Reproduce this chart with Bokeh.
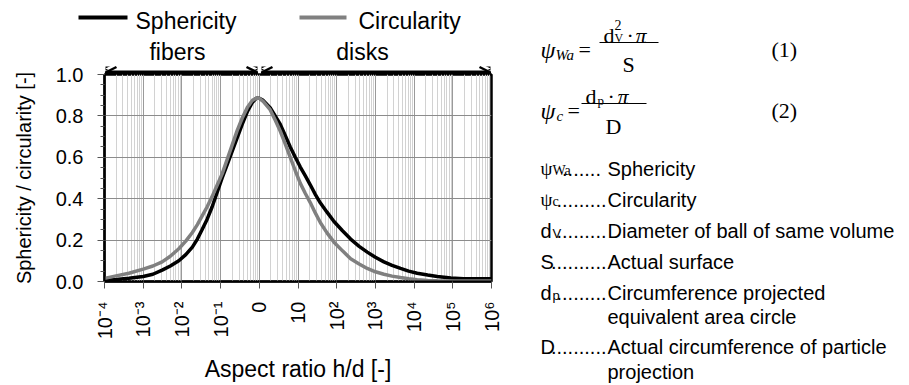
import math
from bokeh.plotting import figure
from bokeh.layouts import column, row
from bokeh.models import (Range1d, FixedTicker, CustomJSTickFormatter, NumeralTickFormatter,
                          Label, Arrow, OpenHead)
from bokeh.embed import file_html
from bokeh.resources import INLINE

# ---------------- data ----------------
sph_log_ar = [-4.0, -3.7, -3.37, -3.0, -2.75, -2.51, -2.3, -2.08, -1.9, -1.73, -1.6, -1.48, -1.35,
              -1.22, -1.09, -0.96, -0.83, -0.70, -0.57, -0.44, -0.31, -0.18, -0.08, 0.0, 0.1, 0.28,
              0.41, 0.54, 0.67, 0.80, 0.93, 1.06, 1.19, 1.32, 1.45, 1.58, 1.75, 1.93, 2.15, 2.36,
              2.58, 2.79, 3.0, 3.22, 3.43, 3.65, 3.86, 4.08, 4.35, 4.60, 4.95, 5.28, 5.6, 6.0]
sphericity = [0.005, 0.01, 0.016, 0.024, 0.035, 0.055, 0.075, 0.10, 0.13, 0.166, 0.205, 0.25, 0.30,
              0.36, 0.43, 0.50, 0.565, 0.63, 0.695, 0.76, 0.82, 0.865, 0.885, 0.885, 0.875, 0.84,
              0.80, 0.76, 0.705, 0.65, 0.60, 0.553, 0.51, 0.466, 0.42, 0.379, 0.335, 0.29, 0.245,
              0.205, 0.17, 0.142, 0.117, 0.095, 0.078, 0.063, 0.05, 0.04, 0.031, 0.024, 0.017,
              0.013, 0.013, 0.013]

cir_log_ar = [-4.0, -3.7, -3.37, -3.0, -2.75, -2.51, -2.3, -2.08, -1.9, -1.73, -1.6, -1.48, -1.35,
              -1.22, -1.09, -0.96, -0.83, -0.70, -0.57, -0.44, -0.31, -0.18, -0.08, 0.0, 0.1, 0.28,
              0.41, 0.54, 0.67, 0.80, 0.93, 1.06, 1.19, 1.32, 1.45, 1.58, 1.75, 1.93, 2.15, 2.36,
              2.58, 2.79, 3.0, 3.22, 3.43, 3.65, 3.86, 4.08, 4.35, 4.6, 5.0, 5.5, 6.0]
circularity = [0.015, 0.027, 0.04, 0.06, 0.075, 0.095, 0.122, 0.158, 0.195, 0.237, 0.275, 0.316,
               0.36, 0.41, 0.465, 0.52, 0.59, 0.66, 0.73, 0.79, 0.84, 0.875, 0.885, 0.885, 0.87,
               0.83, 0.78, 0.727, 0.665, 0.60, 0.535, 0.474, 0.425, 0.38, 0.33, 0.284, 0.235, 0.19,
               0.148, 0.11, 0.085, 0.063, 0.047, 0.035, 0.026, 0.019, 0.013, 0.008, 0.005, 0.004,
               0.003, 0.002, 0.002]

x_tick_values = [1e-4, 1e-3, 1e-2, 1e-1, 1e0, 1e1, 1e2, 1e3, 1e4, 1e5, 1e6]
x_tick_labels = ["10\u207b\u2074", "10\u207b\u00b3", "10\u207b\u00b2", "10\u207b\u00b9", "0", "10",
                 "10\u00b2", "10\u00b3", "10\u2074", "10\u2075", "10\u2076"]
y_tick_values = [0.0, 0.2, 0.4, 0.6, 0.8, 1.0]

legend_labels = ["Sphericity", "Circularity"]
region_labels = ["fibers", "disks"]
x_title = "Aspect ratio h/d [-]"
y_title = "Sphericity / circularity [-]"

def_symbols = [("\u03c8", "Wa", "serif"), ("\u03c8", "c", "serif"), ("d", "V", "sans"),
               ("S", "", "sans"), ("d", "p", "sans"), ("", "", "sans"), ("D", "", "sans"), ("", "", "sans")]
def_dots = [" .......", ".........", ".........", "..........", ".........", "", "..........", ""]
def_texts = ["Sphericity", "Circularity", "Diameter of ball of same volume", "Actual surface",
             "Circumference projected", "equivalent area circle",
             "Actual circumference of particle", "projection"]

# ---------------- layout ----------------
W, H = 909, 385
L, R, T, B = 104, 491, 74, 285
LEFT_W = 520
OVER = 14          # the plot canvas reaches this far up into the top band
SANS = "Liberation Sans"
SERIF = "Liberation Serif"


def blank(width, height, x0, x1, y0, y1):
    f = figure(width=width, height=height, x_range=Range1d(x0, x1), y_range=Range1d(y1, y0),
               output_backend="svg", toolbar_location=None, x_axis_location=None,
               y_axis_location=None, min_border=0, frame_align=False)
    f.grid.visible = False
    f.outline_line_color = None
    f.background_fill_color = "white"
    f.border_fill_color = "white"
    return f


top = blank(LEFT_W, T, 0, LEFT_W, 0, T)      # global pixel coordinates, y downwards
side = blank(W - LEFT_W, H, LEFT_W, W, 0, H)

p = figure(width=LEFT_W, height=H - T + OVER, x_axis_type="log", x_range=Range1d(1e-4, 1e6),
           y_range=Range1d(0, 1), output_backend="svg", toolbar_location=None,
           min_border_left=L, min_border_right=LEFT_W - R, min_border_top=OVER,
           min_border_bottom=H - B, frame_align=False, margin=(-OVER, 0, 0, 0))
p.background_fill_color = "white"
p.border_fill_color = None
p.outline_line_color = "black"
p.outline_line_width = 2.5

minor_x = [m * 10.0 ** k for k in range(-4, 6) for m in range(2, 10)]
xt = FixedTicker(ticks=x_tick_values, minor_ticks=minor_x)
p.xaxis.ticker = xt
p.xgrid.ticker = xt
p.xaxis.formatter = CustomJSTickFormatter(args=dict(labels=x_tick_labels),
                                          code="return labels[Math.round(Math.log10(tick)) + 4];")
p.xaxis.major_label_orientation = math.pi / 2
p.xaxis.major_label_standoff = 13
p.xaxis.major_tick_out = 7
p.xaxis.major_tick_in = 0
p.xaxis.minor_tick_line_color = None
p.xaxis.axis_line_width = 2
p.xaxis.major_tick_line_color = "#555555"
p.xaxis.axis_label = x_title
p.xaxis.axis_label_standoff = 14

yt = FixedTicker(ticks=y_tick_values, minor_ticks=[i * 0.05 for i in range(21)])
p.yaxis.ticker = yt
p.ygrid.ticker = yt
p.yaxis.formatter = NumeralTickFormatter(format="0.0")
p.yaxis.major_tick_out = 7
p.yaxis.major_tick_in = 0
p.yaxis.minor_tick_out = 4
p.yaxis.minor_tick_in = 0
p.yaxis.major_label_standoff = 14
p.yaxis.axis_line_width = 2
p.yaxis.major_tick_line_color = "#555555"
p.yaxis.minor_tick_line_color = "#555555"
p.yaxis.axis_label = y_title
p.yaxis.axis_label_standoff = 18

for ax in (p.xaxis, p.yaxis):
    ax.major_label_text_font = SANS
    ax.major_label_text_font_size = "20px"
    ax.major_label_text_color = "black"
    ax.axis_line_color = "black"
    ax.axis_label_text_font = SANS
    ax.axis_label_text_font_style = "normal"
    ax.axis_label_text_color = "black"
p.xaxis.axis_label_text_font_size = "23px"
p.yaxis.axis_label_text_font_size = "20px"

p.xgrid.grid_line_color = "#9a9a9a"
p.xgrid.minor_grid_line_color = "#d2d2d2"
p.ygrid.grid_line_color = "#8c8c8c"

p.line([10 ** v for v in sph_log_ar], sphericity, line_color="black", line_width=3.5)
p.line([10 ** v for v in cir_log_ar], circularity, line_color="#808080", line_width=3.5)


def lab(fig, px, py, text, font=SANS, size=20, align="left", baseline="alphabetic",
        style="normal", **kw):
    fig.add_layout(Label(x=px, y=py, text=text, text_font=font, text_font_size=f"{size}px",
                         text_align=align, text_baseline=baseline, text_font_style=style,
                         text_color="black", **kw))


def seg(fig, x0, y0, x1, y1, color="black", width=1.0, start=None, end=None, units="data"):
    fig.add_layout(Arrow(x_start=x0, y_start=y0, x_end=x1, y_end=y1, start_units=units,
                         end_units=units, line_color=color, line_width=width, start=start, end=end))


# ---- top band: legend, region labels, arrows ----
seg(top, 78, 17, 127, 17, "black", 4)
lab(top, 135, 20, legend_labels[0], size=23, baseline="middle")
seg(top, 299, 17, 346, 17, "#808080", 4)
lab(top, 358, 20, legend_labels[1], size=23, baseline="middle")

lab(top, 177, 51, region_labels[0], size=23, align="center", baseline="middle",
    background_fill_color="white", padding=2)
lab(top, 362, 51, region_labels[1], size=23, align="center", baseline="middle",
    background_fill_color="white", padding=2)

arrow_spans = [(105, 257), (261, 490)]
ARROW_Y = 72


def heads():
    return OpenHead(size=11, line_width=2.5, line_color="black")


for a, b in arrow_spans:
    seg(top, a, ARROW_Y, b, ARROW_Y, "black", 4, start=heads(), end=heads())
    # lower half of the heads that overlaps the plot frame
    seg(p, a - L, B - ARROW_Y, b - L, B - ARROW_Y, "black", 4, start=heads(), end=heads(),
        units="screen")

# ---- side panel: equations and definitions ----
# equation 1
lab(side, 540, 49, "\u03c8", font=SERIF, size=24, style="italic")
lab(side, 555, 54, "Wa", font=SERIF, size=15, style="italic")
lab(side, 578, 49, "=", font=SERIF, size=22)
seg(side, 599, 42, 658, 42, "black", 1.2)
lab(side, 603, 35, "d", font=SERIF, size=22)
lab(side, 614, 24, "2", font=SERIF, size=14)
lab(side, 614, 37, "V", font=SERIF, size=12)
lab(side, 626, 35, "\u00b7", font=SERIF, size=22)
lab(side, 635, 35, "\u03c0", font=SERIF, size=22, style="italic")
lab(side, 628, 64, "S", font=SERIF, size=22, align="center")
lab(side, 771, 49, "(1)", font=SERIF, size=22)

# equation 2
lab(side, 540, 110, "\u03c8", font=SERIF, size=24, style="italic")
lab(side, 556, 115, "c", font=SERIF, size=15, style="italic")
lab(side, 567, 110, "=", font=SERIF, size=22)
seg(side, 581, 103, 646, 103, "black", 1.2)
lab(side, 585, 96, "d", font=SERIF, size=22)
lab(side, 597, 100, "p", font=SERIF, size=13)
lab(side, 607, 96, "\u00b7", font=SERIF, size=22)
lab(side, 617, 96, "\u03c0", font=SERIF, size=22, style="italic")
lab(side, 613, 126, "D", font=SERIF, size=22, align="center")
lab(side, 771, 110, "(2)", font=SERIF, size=22)

row_y = [161, 192, 223, 254, 285, 309, 339, 364]
for (sym, sub, kind), dots, txt, y in zip(def_symbols, def_dots, def_texts, row_y):
    base = y + 7
    if sym:
        if kind == "serif":
            lab(side, 540, base, sym, font=SERIF, size=19)
            lab(side, 552, base + 2, sub, font=SERIF, size=14)
        else:
            lab(side, 540, base, sym, size=20)
            if sub:
                lab(side, 552, base + 3, sub, size=13)
    if dots:
        lab(side, 606, base, dots, size=20, align="right")
    lab(side, 607, base, txt, size=20)

layout = row(column(top, p, spacing=0), side, spacing=0)
open("out.html", "w").write(file_html(layout, INLINE))
